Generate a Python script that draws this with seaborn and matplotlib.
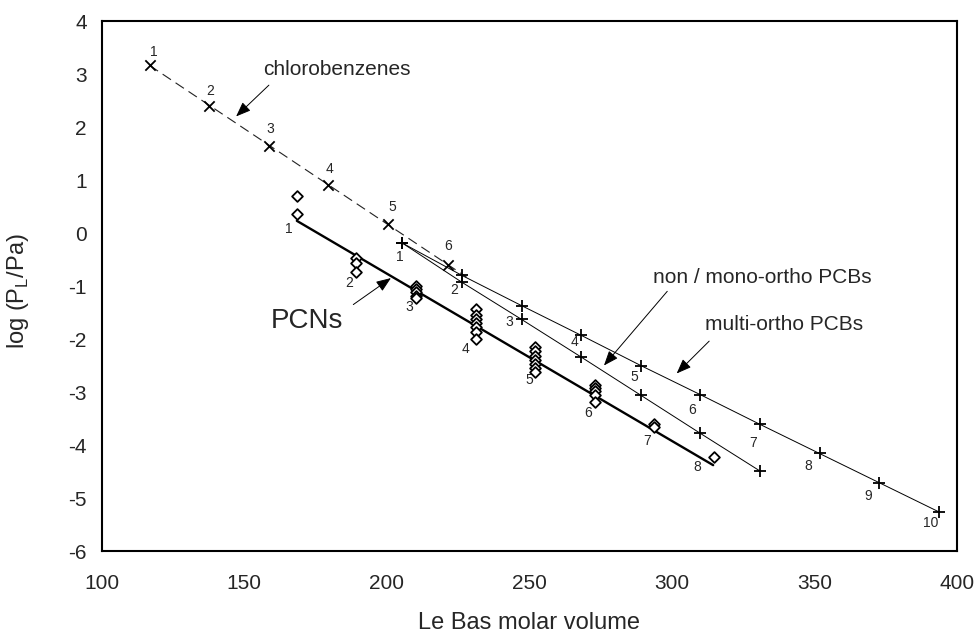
import numpy as np
import pandas as pd
import matplotlib
matplotlib.use("Agg")
import matplotlib.pyplot as plt
import seaborn as sns

# ---------------- data ----------------
cb_volume = [116.9, 137.8, 158.7, 179.6, 200.5, 221.4]
cb_logp = [3.17, 2.40, 1.65, 0.91, 0.17, -0.60]
cb_labels = ["1", "2", "3", "4", "5", "6"]
cb_fit_range = [116.9, 228.0]

pcn_cl = [1, 1,
          2, 2, 2,
          3, 3, 3, 3, 3,
          4, 4, 4, 4, 4, 4, 4,
          5, 5, 5, 5, 5, 5, 5,
          6, 6, 6, 6, 6,
          7, 7,
          8]
pcn_group_volume = [168.5, 189.4, 210.3, 231.2, 252.1, 273.0, 293.9, 314.8]
pcn_logp = [0.70, 0.36,
            -0.48, -0.56, -0.74,
            -1.00, -1.05, -1.11, -1.18, -1.23,
            -1.43, -1.55, -1.62, -1.70, -1.78, -1.87, -2.00,
            -2.15, -2.23, -2.32, -2.40, -2.47, -2.55, -2.62,
            -2.86, -2.92, -2.98, -3.05, -3.18,
            -3.60, -3.66,
            -4.22]
pcn_line_volume = [168.5, 314.5]
pcn_line_logp = [0.23, -4.38]

pcb_volume = [205.5, 226.4, 247.3, 268.2, 289.1, 310.0, 330.9, 351.8, 372.7, 393.6]
multi_logp = [-0.19, -0.80, -1.37, -1.93, -2.50, -3.05, -3.61, -4.16, -4.71, -5.26]
nonmono_logp = [-0.19, -0.93, -1.63, -2.34, -3.06, -3.78, -4.49]
pcb_labels = ["1", "2", "3", "4", "5", "6", "7", "8", "9", "10"]

x_ticks = [100, 150, 200, 250, 300, 350, 400]
y_ticks = [-6, -5, -4, -3, -2, -1, 0, 1, 2, 3, 4]

# ---------------- frames ----------------
cb_df = pd.DataFrame({"volume": cb_volume, "logp": cb_logp})
pcn_df = pd.DataFrame({"cl": pcn_cl, "logp": pcn_logp})
pcn_df["volume"] = [pcn_group_volume[c - 1] for c in pcn_cl]
multi_df = pd.DataFrame({"volume": pcb_volume, "logp": multi_logp})
nonmono_df = pd.DataFrame({"volume": pcb_volume[:len(nonmono_logp)], "logp": nonmono_logp})

# ---------------- style ----------------
sns.set_style("white")
plt.rcParams["font.family"] = ["Liberation Sans", "DejaVu Sans"]
plt.rcParams["mathtext.fontset"] = "custom"
plt.rcParams["mathtext.rm"] = "Liberation Sans"
plt.rcParams["axes.unicode_minus"] = False

fig = plt.figure(figsize=(9.77, 6.39), dpi=100)
ax = fig.add_axes([0.1039, 0.1377, 0.8756, 0.8294])

# chlorobenzene regression (dashed)
coef = np.polyfit(cb_volume, cb_logp, 1)
cb_fit_df = pd.DataFrame({"volume": cb_fit_range,
                          "logp": np.polyval(coef, cb_fit_range)})
sns.lineplot(data=cb_fit_df, x="volume", y="logp", ax=ax, color="#222222",
             lw=0.8, dashes=False, estimator=None, sort=False)
ax.lines[-1].set_dashes((9, 5))

# PCB lines
sns.lineplot(data=multi_df, x="volume", y="logp", ax=ax, color="black",
             lw=0.7, estimator=None, sort=False)
sns.lineplot(data=nonmono_df, x="volume", y="logp", ax=ax, color="black",
             lw=0.7, estimator=None, sort=False)

# PCN line
pcn_line_df = pd.DataFrame({"volume": pcn_line_volume, "logp": pcn_line_logp})
sns.lineplot(data=pcn_line_df, x="volume", y="logp", ax=ax, color="black",
             lw=1.7, estimator=None, sort=False)

# markers
sns.scatterplot(data=cb_df, x="volume", y="logp", ax=ax, marker="x",
                color="black", s=55, linewidth=1.3, zorder=5)
sns.scatterplot(data=multi_df, x="volume", y="logp", ax=ax, marker="+",
                color="black", s=70, linewidth=1.3, zorder=5)
sns.scatterplot(data=nonmono_df, x="volume", y="logp", ax=ax, marker="+",
                color="black", s=70, linewidth=1.3, zorder=5)
sns.scatterplot(data=pcn_df, x="volume", y="logp", ax=ax, marker="D",
                facecolor="white", edgecolor="black", s=30, linewidth=1.3,
                zorder=6)

# number labels
num_fs = 10
cb_off = [(4, 13), (1, 15), (1, 17), (1, 16), (4, 17), (0, 19)]
for xv, yv, lab, off in zip(cb_volume, cb_logp, cb_labels, cb_off):
    ax.annotate(lab, (xv, yv), xytext=off, textcoords="offset pixels",
                ha="center", va="center", fontsize=num_fs)

pcn_off = [(-8, -15), (-7, -11), (-7, -9), (-10, -10), (-6, -8), (-7, -11),
           (-7, -14), (-17, -10)]
for i, (xv, off) in enumerate(zip(pcn_group_volume, pcn_off)):
    ymin = pcn_df.loc[pcn_df["cl"] == i + 1, "logp"].min()
    ax.annotate(str(i + 1), (xv, ymin), xytext=off, textcoords="offset pixels",
                ha="center", va="center", fontsize=num_fs)

pcb_off = [(-3, -14), (-8, -8), (-12, -3), (-7, -7), (-6, -11), (-8, -15),
           (-7, -19), (-11, -13), (-11, -13), (-8, -11)]
for i, (xv, lab, off) in enumerate(zip(pcb_volume, pcb_labels, pcb_off)):
    if i in (1, 2):
        yv = nonmono_logp[i]
    else:
        yv = multi_logp[i]
    ax.annotate(lab, (xv, yv), xytext=off, textcoords="offset pixels",
                ha="center", va="center", fontsize=num_fs)

# series annotations with arrows
arrow = dict(arrowstyle="-|>,head_length=0.9,head_width=0.35", color="black",
             lw=0.7, shrinkA=0, shrinkB=0)
ax.text(156.6, 3.08, "chlorobenzenes", fontsize=15, ha="left", va="center")
ax.annotate("", xy=(147.2, 2.20), xytext=(158.7, 2.79), arrowprops=arrow)
ax.text(172.1, -1.66, "PCNs", fontsize=20, ha="center", va="center")
ax.annotate("", xy=(201.5, -0.85), xytext=(188.3, -1.35), arrowprops=arrow)
ax.text(293.5, -0.83, "non / mono-ortho PCBs", fontsize=15, ha="left",
        va="center")
ax.annotate("", xy=(276.2, -2.50), xytext=(298.4, -1.10), arrowprops=arrow)
ax.text(311.6, -1.725, "multi-ortho PCBs", fontsize=15, ha="left", va="center")
ax.annotate("", xy=(301.7, -2.65), xytext=(313.1, -2.04), arrowprops=arrow)

# axes
ax.set_xlim(100, 400)
ax.set_ylim(-6, 4)
ax.set_xticks(x_ticks)
ax.set_yticks(y_ticks)
ax.tick_params(axis="both", direction="inout", length=9, width=0.8,
               labelsize=15, color="black")
ax.tick_params(axis="x", pad=12)
ax.tick_params(axis="y", pad=6)
for sp in ax.spines.values():
    sp.set_visible(True)
    sp.set_linewidth(1.5)
    sp.set_color("black")
ax.set_xlabel("Le Bas molar volume", fontsize=17)
ax.set_ylabel("log (P$_\\mathregular{L}$/Pa)", fontsize=17)
ax.xaxis.set_label_coords(0.5, -0.115)
ax.yaxis.set_label_coords(-0.082, 0.49)

fig.savefig("out.png", dpi=100)
